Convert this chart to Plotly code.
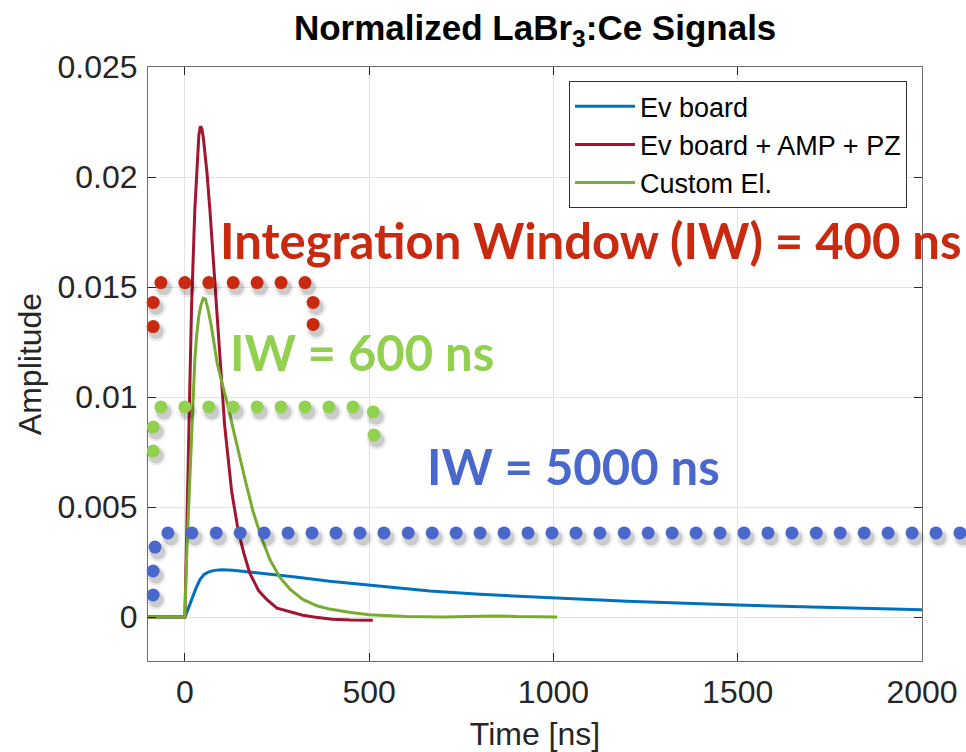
import plotly.graph_objects as go

# ---------------- data ----------------
t_ev = [-100, 0, 5, 10, 16, 22, 30, 41, 52, 65, 80, 100, 130, 160, 200, 231, 300, 393,
        500, 583, 665, 800, 1000, 1200, 1500, 1750, 2000]
a_ev = [0, 0, 0.0002, 0.00045, 0.0007, 0.00095, 0.0013, 0.0017, 0.00193, 0.00205, 0.00212,
        0.00215, 0.00213, 0.00208, 0.00201, 0.00195, 0.00182, 0.00163,
        0.00145, 0.0013, 0.00118, 0.00103, 0.00086, 0.00072, 0.00054, 0.00043, 0.00033]

t_amp = [-100, 0, 3, 7, 14, 18, 27, 33, 38, 42, 46, 50, 55, 60, 68, 77, 86, 95, 108, 127,
         145, 160, 176, 200, 222, 250, 276, 320, 350, 400, 450, 510]
a_amp = [0, 0, 0.0022, 0.0055, 0.0117, 0.014, 0.0185, 0.0207, 0.0219, 0.0223, 0.0222,
         0.0218, 0.0211, 0.0202, 0.0185, 0.0162, 0.014, 0.0117, 0.0087, 0.0057,
         0.0039, 0.0029, 0.002, 0.0012, 0.0008, 0.0004, 0.00027, 0.00008, 0.0, -0.0001,
         -0.00014, -0.00015]

t_cus = [-100, 0, 4.5, 15, 27, 32, 38, 44, 50, 56, 64, 72, 88, 103, 117, 133, 149, 167, 185,
         208, 231, 258, 285, 320, 360, 393, 450, 500, 600, 700, 800, 850, 900, 1010]
a_cus = [0, 0, 0.0026, 0.0068, 0.0117, 0.0128, 0.0137, 0.0142, 0.01448, 0.01445, 0.0139,
         0.0132, 0.0115, 0.0105, 0.0096, 0.0084, 0.0072, 0.006, 0.0048,
         0.0036, 0.0026, 0.0018, 0.00127, 0.0008, 0.0005, 0.00036, 0.0002, 0.0001,
         0.00002, 0.0, 0.00003, 0.00005, 0.00002, 0.0]

series_names = ["Ev board", "Ev board + AMP + PZ", "Custom El."]
series_colors = ["#0072BD", "#A2142F", "#77AC30"]

# integration-window brackets (dotted overlays), data units
iw400_t = [-86, -86, -65, 0, 65, 131, 196, 261, 326, 348, 348]
iw400_a = [0.0132, 0.0143, 0.0152, 0.0152, 0.0152, 0.0152, 0.0152, 0.0152, 0.0152, 0.0143, 0.0133]

iw600_t = [-86, -86, -65, 0, 65, 131, 196, 261, 326, 391, 456, 511, 513]
iw600_a = [0.00755, 0.00864, 0.00955, 0.00955, 0.00955, 0.00955, 0.00955, 0.00955,
           0.00955, 0.00955, 0.00955, 0.00932, 0.00827]

iw5000_t = [-86, -86, -81, -46, 19, 85, 150, 215, 280, 345, 410, 475, 540, 606, 671, 736,
            801, 866, 931, 996, 1061, 1126, 1192, 1257, 1322, 1387, 1452, 1517, 1582,
            1647, 1713, 1778, 1843, 1908, 1973, 2038, 2103]
iw5000_a = [0.0010, 0.00209, 0.00318] + [0.00382] * 34

iw_labels = ["Integration Window (IW) = 400 ns", "IW = 600 ns", "IW = 5000 ns"]
iw_colors = ["#C8290F", "#92D050", "#4A67CC"]

x_ticks = [0, 500, 1000, 1500, 2000]
y_ticks = [0, 0.005, 0.01, 0.015, 0.02, 0.025]
y_tick_text = ["0", "0.005", "0.01", "0.015", "0.02", "0.025"]

X_RANGE = [-100, 2000]
Y_RANGE = [-0.002, 0.025]

# ---------------- layout geometry ----------------
W, H = 966, 752
M_L, M_R_PLOT, M_T, M_B = 148, 44, 67, 91
plot_w = W - M_L - M_R_PLOT            # width of the axes box
paper_w = W - M_L                      # paper extends to the right page edge
dom_end = plot_w / paper_w
x2_end = X_RANGE[0] + (X_RANGE[1] - X_RANGE[0]) * paper_w / plot_w

# ---------------- figure ----------------
fig = go.Figure()

for t, a, name, col in zip([t_ev, t_amp, t_cus], [a_ev, a_amp, a_cus], series_names, series_colors):
    fig.add_trace(go.Scatter(x=t, y=a, mode="lines", name=name,
                             line=dict(color=col, width=3)))

# dotted brackets with soft shadows (own invisible axes that reach the page edge)
px_x = (X_RANGE[1] - X_RANGE[0]) / plot_w
px_y = (Y_RANGE[1] - Y_RANGE[0]) / (H - M_T - M_B)
for tt, aa, col in zip([iw400_t, iw600_t, iw5000_t], [iw400_a, iw600_a, iw5000_a], iw_colors):
    for sz, op, dx, dy in [(20, 0.07, 3, 5), (15, 0.14, 3, 5)]:
        fig.add_trace(go.Scatter(x=[v + dx * px_x for v in tt], y=[v - dy * px_y for v in aa],
                                 mode="markers", showlegend=False, hoverinfo="skip",
                                 cliponaxis=False, xaxis="x2", yaxis="y2",
                                 marker=dict(size=sz, color=f"rgba(0,0,0,{op})", line=dict(width=0))))
    fig.add_trace(go.Scatter(x=tt, y=aa, mode="markers", showlegend=False, hoverinfo="skip",
                             cliponaxis=False, xaxis="x2", yaxis="y2",
                             marker=dict(size=13, color=col, line=dict(width=0))))

ann_px = [(218, 0.708), (228, 0.521), (425, 0.329)]
for txt, col, (pxl, ay) in zip(iw_labels, iw_colors, ann_px):
    fig.add_annotation(text=txt, xref="paper", yref="paper", x=(pxl - M_L) / paper_w, y=ay,
                       xanchor="left", yanchor="middle", showarrow=False,
                       font=dict(family="Lato", size=49, color=col, weight="bold"))

axis_common = dict(showline=True, linecolor="#6e6e6e", linewidth=1, mirror="ticks",
                   ticks="inside", ticklen=8, tickcolor="#262626", showgrid=True,
                   gridcolor="#e3e3e3", gridwidth=1, zeroline=False, automargin=False,
                   tickfont=dict(family="Liberation Sans", size=32, color="#262626"))

fig.update_layout(
    xaxis=dict(range=X_RANGE, domain=[0, dom_end], tickvals=x_ticks, ticklabelstandoff=3,
               title=dict(text="Time [ns]", standoff=13,
                          font=dict(family="Liberation Sans", size=32, color="#262626")),
               **axis_common),
    yaxis=dict(range=Y_RANGE, tickvals=y_ticks, ticktext=y_tick_text, ticklabelstandoff=3,
               title=dict(text="Amplitude", standoff=6,
                          font=dict(family="Liberation Sans", size=32, color="#262626")),
               **axis_common),
    xaxis2=dict(range=[X_RANGE[0], x2_end], domain=[0, 1], anchor="y2",
                visible=False, showgrid=False, zeroline=False, fixedrange=True),
    yaxis2=dict(range=Y_RANGE, domain=[0, 1], anchor="x2",
                visible=False, showgrid=False, zeroline=False, fixedrange=True),
    width=W, height=H,
    margin=dict(l=M_L, r=0, t=M_T, b=M_B),
    paper_bgcolor="white", plot_bgcolor="rgba(0,0,0,0)",
    title=dict(text="<b>Normalized LaBr<sub>3</sub>:Ce Signals</b>", x=0.554, xanchor="center",
               y=0.963, yanchor="middle",
               font=dict(family="Liberation Sans", size=35, color="#000000")),
    legend=dict(x=(907 - M_L) / paper_w, xanchor="right", y=0.976, yanchor="top",
                bgcolor="white", bordercolor="#333333", borderwidth=1,
                font=dict(family="Liberation Sans", size=27, color="#000000"),
                itemwidth=60, tracegroupgap=0),
    showlegend=True,
)

fig.write_html("out.html")
